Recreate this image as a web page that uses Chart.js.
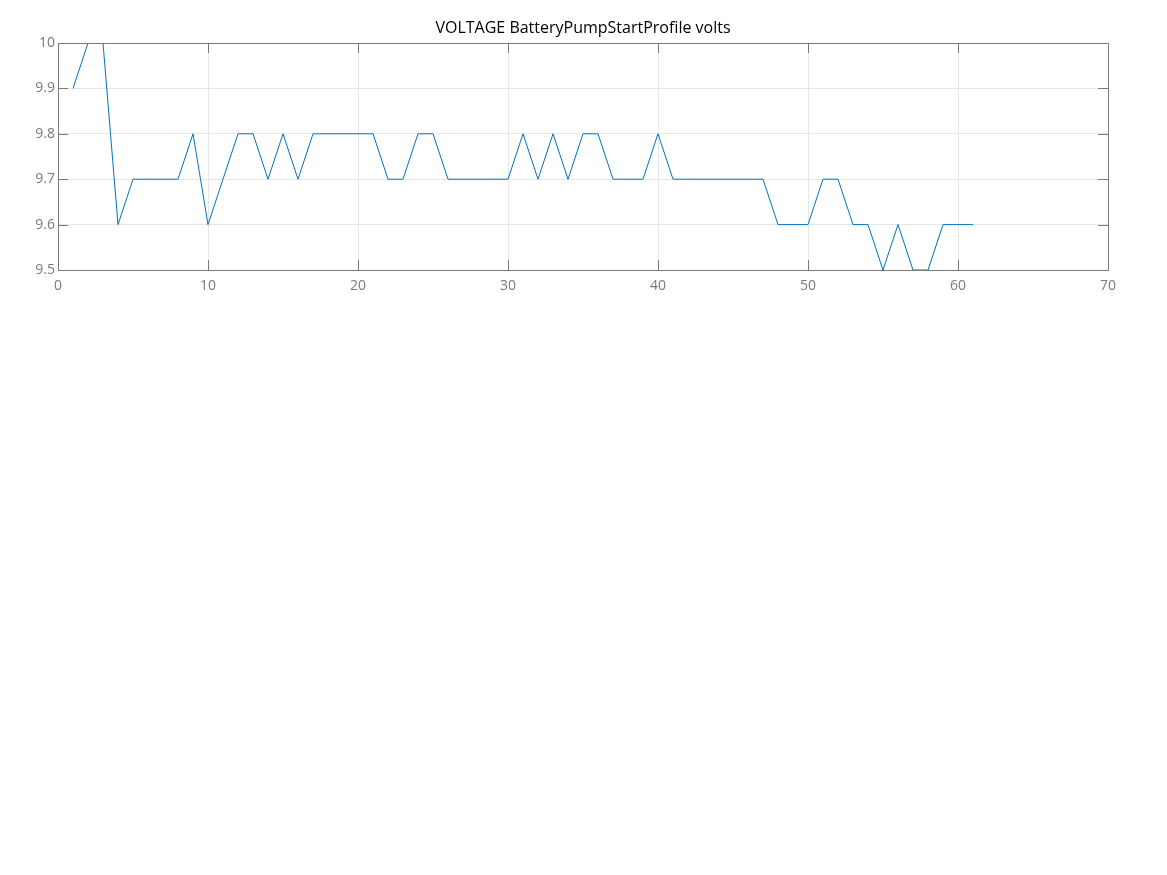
<!DOCTYPE html>
<html>
<head>
<meta charset="utf-8">
<script src="https://cdn.jsdelivr.net/npm/chart.js@4"></script>
<style>
html,body{margin:0;padding:0;background:#fff;}
#wrap{width:1167px;height:875px;position:relative;}
</style>
</head>
<body>
<div id="wrap"><canvas id="c" width="1167" height="875"></canvas></div>
<script>
const titleText = 'VOLTAGE BatteryPumpStartProfile volts';
const sampleIndex = [1,2,3,4,5,6,7,8,9,10,11,12,13,14,15,16,17,18,19,20,21,22,23,24,25,26,27,28,29,30,31,32,33,34,35,36,37,38,39,40,41,42,43,44,45,46,47,48,49,50,51,52,53,54,55,56,57,58,59,60,61];
const voltage = [9.9,10,10,9.6,9.7,9.7,9.7,9.7,9.8,9.6,9.7,9.8,9.8,9.7,9.8,9.7,9.8,9.8,9.8,9.8,9.8,9.7,9.7,9.8,9.8,9.7,9.7,9.7,9.7,9.7,9.8,9.7,9.8,9.7,9.8,9.8,9.7,9.7,9.7,9.8,9.7,9.7,9.7,9.7,9.7,9.7,9.7,9.6,9.6,9.6,9.7,9.7,9.6,9.6,9.5,9.6,9.5,9.5,9.6,9.6,9.6];
const xTicks = [0,10,20,30,40,50,60,70];
const yTicks = [9.5,9.6,9.7,9.8,9.9,10];
const yTickLabels = ['9.5','9.6','9.7','9.8','9.9','10'];

const AXIS_COLOR = '#7a7a7a';
const boxTicks = {
  id: 'boxTicks',
  afterDatasetsDraw(chart) {
    const {ctx, chartArea: a, scales: {x, y}} = chart;
    ctx.save();
    ctx.strokeStyle = AXIS_COLOR;
    ctx.lineWidth = 1;
    ctx.beginPath();
    const L = 10;
    xTicks.forEach(v => {
      const px = Math.round(x.getPixelForValue(v)) + 0.5;
      ctx.moveTo(px, a.bottom); ctx.lineTo(px, a.bottom - L);
      ctx.moveTo(px, a.top); ctx.lineTo(px, a.top + L);
    });
    yTicks.forEach(v => {
      const py = Math.round(y.getPixelForValue(v)) + 0.5;
      ctx.moveTo(a.left, py); ctx.lineTo(a.left + L, py);
      ctx.moveTo(a.right, py); ctx.lineTo(a.right - L, py);
    });
    ctx.stroke();
    ctx.strokeRect(Math.round(a.left) + 0.5, Math.round(a.top) + 0.5, Math.round(a.right - a.left), Math.round(a.bottom - a.top));
    ctx.fillStyle = '#000';
    ctx.font = '16px "Open Sans"';
    ctx.textAlign = 'center';
    ctx.textBaseline = 'middle';
    ctx.fillText(titleText, (a.left + a.right) / 2, 28);
    ctx.restore();
  }
};

new Chart(document.getElementById('c'), {
  type: 'line',
  data: {
    datasets: [{
      data: sampleIndex.map((v, i) => ({x: v, y: voltage[i]})),
      borderColor: '#0072BD',
      borderWidth: 1,
      pointRadius: 0,
      tension: 0,
      fill: false
    }]
  },
  options: {
    responsive: false,
    animation: false,
    devicePixelRatio: 1,
    layout: {padding: {left: 0, right: 59, top: 43, bottom: 0}},
    plugins: {
      legend: {display: false},
      tooltip: {enabled: false},
      title: {display: false}
    },
    scales: {
      x: {
        type: 'linear',
        min: 0, max: 70,
        afterBuildTicks(s) { s.ticks = xTicks.map(v => ({value: v})); },
        afterFit(s) { s.height = 875 - 270; },
        grid: {color: '#e6e6e6', drawTicks: false, lineWidth: 1},
        border: {display: false},
        ticks: {color: AXIS_COLOR, font: {family: 'Open Sans', size: 14}, padding: 8, maxRotation: 0}
      },
      y: {
        type: 'linear',
        min: 9.5, max: 10,
        afterBuildTicks(s) { s.ticks = yTicks.map(v => ({value: v})); },
        afterFit(s) { s.width = 58; },
        grid: {color: '#e6e6e6', drawTicks: false, lineWidth: 1},
        border: {display: false},
        ticks: {
          color: AXIS_COLOR, font: {family: 'Open Sans', size: 14}, padding: 3,
          callback(v, i) { return yTickLabels[i]; }
        }
      }
    }
  },
  plugins: [boxTicks]
});
</script>
</body>
</html>
